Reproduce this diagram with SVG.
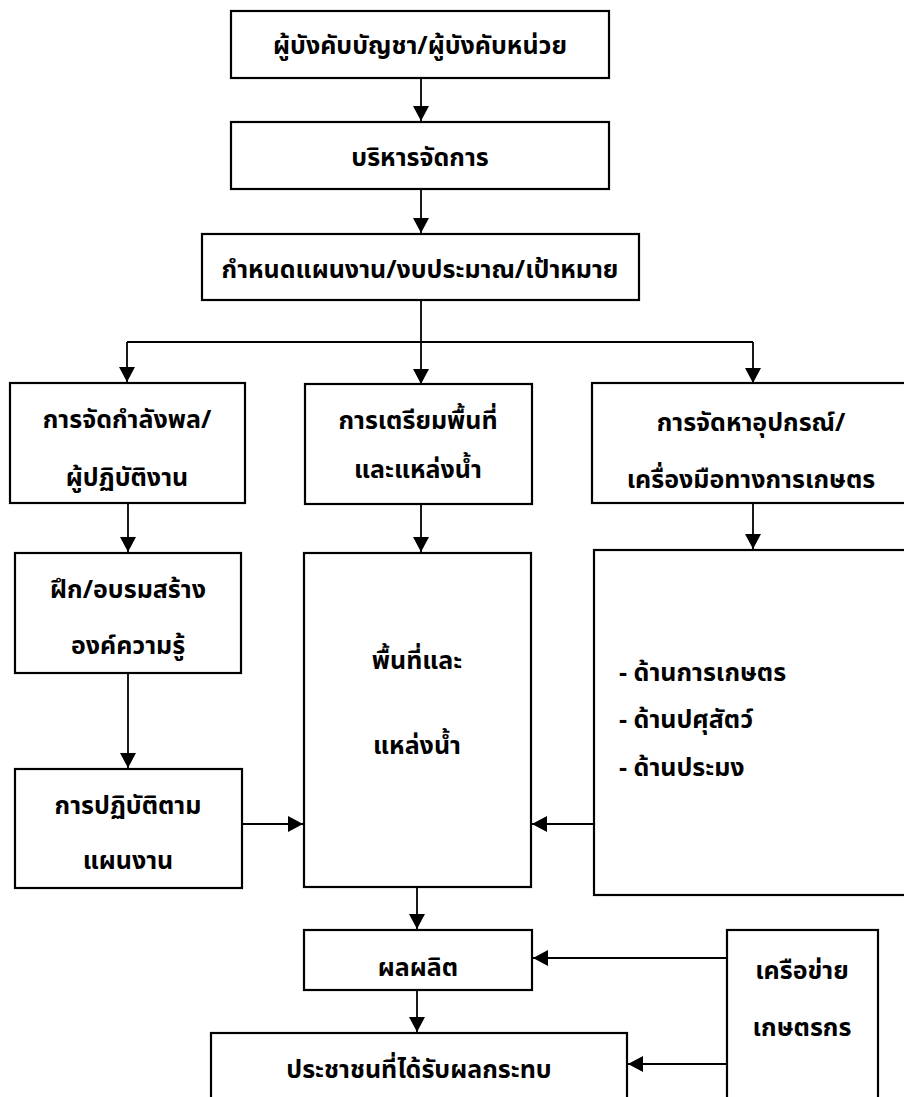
<svg xmlns="http://www.w3.org/2000/svg" width="904" height="1097" viewBox="0 0 904 1097">
<defs>
<style>
.box{fill:#fff;stroke:#000;stroke-width:2.2}
.t{font-family:'Noto Sans Thai','Tahoma','Noto Sans',sans-serif;font-weight:bold;font-size:25px;fill:#000}
.m{text-anchor:middle}
.c{fill:none;stroke:#000;stroke-width:1.8}
</style>
<marker id="ah" markerUnits="userSpaceOnUse" markerWidth="16" markerHeight="16" viewBox="0 0 16 16" refX="15" refY="8" orient="auto">
<path d="M0,0 L15,8 L0,16 Z" fill="#000"/>
</marker>
</defs>
<rect width="904" height="1097" fill="#fff"/>
<g id="connectors">
<line class="c" x1="421" y1="79" x2="421" y2="121" marker-end="url(#ah)"/>
<line class="c" x1="421" y1="190" x2="421" y2="233" marker-end="url(#ah)"/>
<polyline class="c" points="421,301 421,342"/>
<polyline class="c" points="127,342 753,342"/>
<line class="c" x1="127" y1="342" x2="127" y2="382" marker-end="url(#ah)"/>
<line class="c" x1="421" y1="342" x2="421" y2="384" marker-end="url(#ah)"/>
<line class="c" x1="753" y1="342" x2="753" y2="383" marker-end="url(#ah)"/>
<line class="c" x1="128" y1="504" x2="128" y2="552" marker-end="url(#ah)"/>
<line class="c" x1="421" y1="505" x2="421" y2="552" marker-end="url(#ah)"/>
<line class="c" x1="753" y1="504" x2="753" y2="549" marker-end="url(#ah)"/>
<line class="c" x1="128" y1="674" x2="128" y2="768" marker-end="url(#ah)"/>
<line class="c" x1="242" y1="824" x2="303" y2="824" marker-end="url(#ah)"/>
<line class="c" x1="594" y1="824" x2="532" y2="824" marker-end="url(#ah)"/>
<line class="c" x1="417" y1="888" x2="417" y2="929" marker-end="url(#ah)"/>
<line class="c" x1="417" y1="991" x2="417" y2="1032" marker-end="url(#ah)"/>
<line class="c" x1="727" y1="958" x2="533" y2="958" marker-end="url(#ah)"/>
<line class="c" x1="727" y1="1064" x2="628" y2="1064" marker-end="url(#ah)"/>
</g>
<g id="n1"><rect class="box" x="231" y="11" width="378" height="67"/><text class="t m" x="420" y="54">ผู้บังคับบัญชา/ผู้บังคับหน่วย</text></g>
<g id="n2"><rect class="box" x="231" y="122" width="378" height="67"/><text class="t m" x="420" y="166">บริหารจัดการ</text></g>
<g id="n3"><rect class="box" x="202" y="234" width="437" height="66"/><text class="t m" x="420" y="278">กำหนดแผนงาน/งบประมาณ/เป้าหมาย</text></g>
<g id="n4"><rect class="box" x="10" y="383" width="235" height="120"/><text class="t m" x="127" y="428">การจัดกำลังพล/</text><text class="t m" x="127" y="486">ผู้ปฏิบัติงาน</text></g>
<g id="n5"><rect class="box" x="305" y="384" width="227" height="120"/><text class="t m" x="418" y="429">การเตรียมพื้นที่</text><text class="t m" x="418" y="478">และแหล่งน้ำ</text></g>
<g id="n6"><rect class="box" x="592" y="383" width="320" height="120"/><text class="t m" x="751" y="431">การจัดหาอุปกรณ์/</text><text class="t m" x="751" y="488">เครื่องมือทางการเกษตร</text></g>
<g id="n7"><rect class="box" x="15" y="553" width="226" height="120"/><text class="t m" x="128" y="598">ฝึก/อบรมสร้าง</text><text class="t m" x="128" y="654">องค์ความรู้</text></g>
<g id="n8"><rect class="box" x="304" y="553" width="227" height="334"/><text class="t m" x="417" y="669">พื้นที่และ</text><text class="t m" x="417" y="754">แหล่งน้ำ</text></g>
<g id="n9"><rect class="box" x="594" y="550" width="320" height="345"/><text class="t" x="619" y="681">- ด้านการเกษตร</text><text class="t" x="619" y="728">- ด้านปศุสัตว์</text><text class="t" x="619" y="776">- ด้านประมง</text></g>
<g id="n10"><rect class="box" x="15" y="769" width="227" height="119"/><text class="t m" x="128" y="814">การปฏิบัติตาม</text><text class="t m" x="128" y="869">แผนงาน</text></g>
<g id="n11"><rect class="box" x="304" y="930" width="228" height="60"/><text class="t m" x="418" y="976">ผลผลิต</text></g>
<g id="n12"><rect class="box" x="727" y="930" width="151" height="180"/><text class="t m" x="802" y="979">เครือข่าย</text><text class="t m" x="802" y="1036">เกษตรกร</text></g>
<g id="n13"><rect class="box" x="211" y="1033" width="416" height="80"/><text class="t m" x="419" y="1078">ประชาชนที่ได้รับผลกระทบ</text></g>
</svg>
